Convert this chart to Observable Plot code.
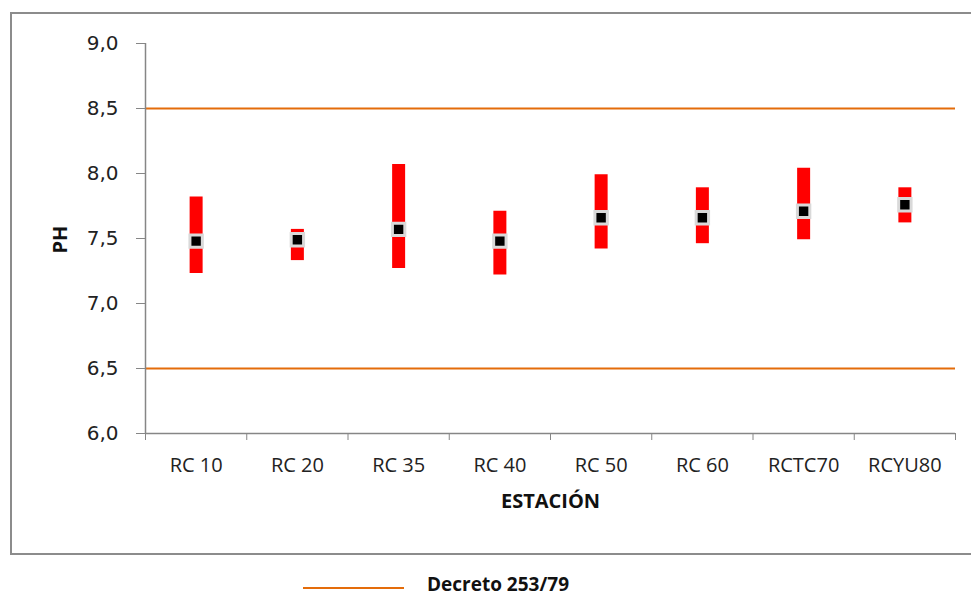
<!DOCTYPE html>
<html>
<head>
<meta charset="utf-8">
<script src="https://cdn.jsdelivr.net/npm/d3@7"></script>
<script src="https://cdn.jsdelivr.net/npm/@observablehq/plot@0.6"></script>
<style>
  html, body { margin: 0; padding: 0; background: #fff; width: 971px; height: 596px; overflow: hidden; }
  #frame { position: absolute; left: 10px; top: 12px; width: 1000px; height: 543px; border: 2px solid #8c8c8c; box-sizing: border-box; }
  #chart { position: absolute; left: 0; top: 0; }
  #legend { position: absolute; left: 0; top: 570px; width: 971px; height: 26px; }
  #legend .swatch { position: absolute; left: 303px; top: 17px; width: 101px; height: 2px; background: #E46C0A; }
  #legend .label { position: absolute; left: 427px; top: 1px; font-family: "Open Sans", sans-serif; font-weight: bold; font-size: 19px; color: #111; white-space: nowrap; }
</style>
</head>
<body>
<div id="frame"></div>
<div id="chart"></div>
<div id="legend"><div class="swatch"></div><div class="label">Decreto 253/79</div></div>
<script>
const stations = ["RC 10", "RC 20", "RC 35", "RC 40", "RC 50", "RC 60", "RCTC70", "RCYU80"];
const lows  = [7.23, 7.33, 7.27, 7.22, 7.42, 7.46, 7.49, 7.62];
const highs = [7.82, 7.57, 8.07, 7.71, 7.99, 7.89, 8.04, 7.89];
const means = [7.48, 7.49, 7.57, 7.48, 7.66, 7.66, 7.71, 7.76];
const limits = [6.5, 8.5];
const yTicks = [6.0, 6.5, 7.0, 7.5, 8.0, 8.5, 9.0];

const data = stations.map((s, i) => ({station: s, pos: i + 0.5, low: lows[i], high: highs[i], mean: means[i]}));
const boundaries = d3.range(stations.length + 1);
const centers = data.map(d => d.pos);

const axisColor = "#868686";
const orange = "#E46C0A";

const chart = Plot.plot({
  width: 971,
  height: 555,
  marginLeft: 145,
  marginRight: 16,
  marginTop: 43,
  marginBottom: 122,
  style: {background: "transparent", color: "#222"},
  x: {domain: [0, stations.length], axis: null},
  y: {domain: [6, 9], axis: null},
  marks: [
    Plot.ruleY(limits, {stroke: orange, strokeWidth: 2}),
    Plot.ruleX(data, {x: "pos", y1: "low", y2: "high", stroke: "#FF0000", strokeWidth: 13}),
    Plot.dot(data, {x: "pos", y: "mean", symbol: "square", r: 7.0, fill: "#000", stroke: "#D9D9D9", strokeWidth: 3}),
    Plot.ruleX([0], {stroke: axisColor, strokeWidth: 1.5}),
    Plot.ruleY([6], {stroke: axisColor, strokeWidth: 1.5}),
    Plot.axisY({ticks: yTicks, tickSize: 9, tickPadding: 18, tickFormat: d => d.toFixed(1).replace(".", ","), fontSize: 20, fontFamily: "DejaVu Sans", stroke: axisColor, label: null}),
    Plot.axisX({ticks: boundaries, tickSize: 7, tickFormat: () => "", stroke: axisColor, label: null}),
    Plot.axisX({ticks: centers, tickSize: 0, tickPadding: 24, tickFormat: d => stations[Math.floor(d)], fontSize: 20, fontFamily: "Open Sans", label: null}),
    Plot.text(["PH"], {frameAnchor: "left", dx: -85, dy: 15, rotate: -90, fontWeight: "bold", fontSize: 20, fontFamily: "Open Sans", fill: "#111"}),
    Plot.text(["ESTACIÓN"], {frameAnchor: "bottom", dy: 74, fontWeight: "bold", fontSize: 20, fontFamily: "Open Sans", fill: "#111"})
  ]
});
document.getElementById("chart").appendChild(chart);
</script>
</body>
</html>
